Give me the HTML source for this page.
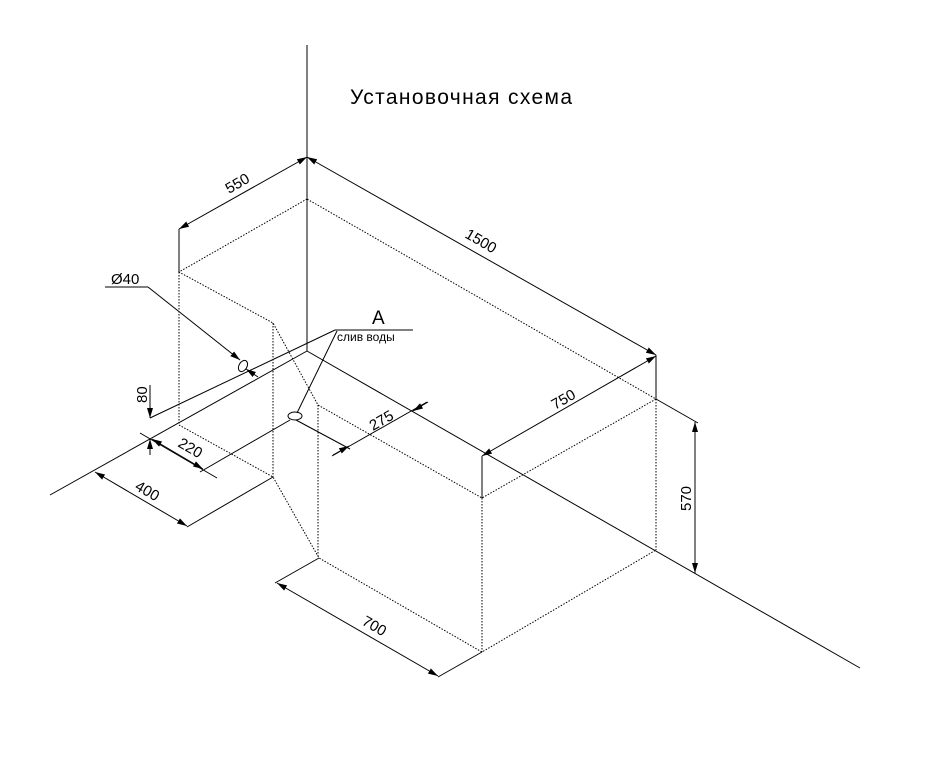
<!DOCTYPE html>
<html><head><meta charset="utf-8"><style>html,body{margin:0;padding:0;background:#fff}svg{display:block}</style></head>
<body>
<svg width="939" height="776" viewBox="0 0 939 776" xmlns="http://www.w3.org/2000/svg" font-family="Liberation Sans, sans-serif">
<defs>
<marker id="ar" viewBox="0 0 10 6" refX="10" refY="3" markerWidth="10" markerHeight="6" orient="auto-start-reverse" markerUnits="userSpaceOnUse">
<path d="M0,0 L10,3 L0,6 Z" fill="#000"/></marker>
</defs>
<rect width="939" height="776" fill="#fff"/>
<g stroke="#000" stroke-width="1" fill="none">
<line x1="307" y1="45" x2="307" y2="351"/>
<line x1="50" y1="495" x2="307" y2="351"/>
<line x1="307" y1="351" x2="860" y2="668"/>
<line x1="307" y1="157" x2="656" y2="355" marker-start="url(#ar)" marker-end="url(#ar)"/>
<line x1="307" y1="157" x2="179" y2="229" marker-start="url(#ar)" marker-end="url(#ar)"/>
<line x1="179" y1="229" x2="179" y2="272"/>
<line x1="656" y1="355" x2="656" y2="399"/>
<line x1="482" y1="456" x2="656" y2="356" marker-start="url(#ar)" marker-end="url(#ar)"/>
<line x1="482" y1="456" x2="482" y2="498"/>
<line x1="656" y1="399" x2="698" y2="423"/>
<line x1="695" y1="422" x2="695" y2="573" marker-start="url(#ar)" marker-end="url(#ar)"/>
<line x1="319" y1="558" x2="275" y2="583"/>
<line x1="482" y1="652" x2="438" y2="677"/>
<line x1="277" y1="583" x2="438" y2="676" marker-start="url(#ar)" marker-end="url(#ar)"/>
<line x1="273" y1="477" x2="187" y2="527"/>
<line x1="95" y1="472" x2="187" y2="526" marker-start="url(#ar)" marker-end="url(#ar)"/>
<line x1="290" y1="420" x2="200" y2="472"/>
<line x1="140" y1="433" x2="217" y2="478"/>
<line x1="152" y1="439" x2="203" y2="469" marker-start="url(#ar)" marker-end="url(#ar)"/>
<line x1="150" y1="418" x2="335" y2="330"/>
<line x1="150" y1="385" x2="150" y2="418" marker-end="url(#ar)"/>
<line x1="150" y1="455" x2="150" y2="439" marker-end="url(#ar)"/>
<line x1="296" y1="420" x2="350" y2="449"/>
<line x1="332" y1="456" x2="427" y2="402"/>
<line x1="333" y1="455" x2="349" y2="446" marker-end="url(#ar)"/>
<line x1="428" y1="402" x2="413" y2="411" marker-end="url(#ar)"/>
<line x1="105" y1="287" x2="148" y2="287"/>
<line x1="148" y1="287" x2="240" y2="360" marker-end="url(#ar)"/>
<line x1="258" y1="377" x2="246" y2="369" marker-end="url(#ar)"/>
<line x1="335" y1="330" x2="413" y2="330"/>
<line x1="337" y1="331" x2="297" y2="413"/>
<ellipse cx="243" cy="366" rx="4" ry="6" transform="rotate(30 243 366)"/>
<ellipse cx="295" cy="416" rx="7" ry="4"/>
</g>
<g stroke="#000" stroke-width="1" fill="none" stroke-dasharray="1.5,1.5">
<polyline points="307,199 179,272 273,323 318,405 482,498 656,399 307,199"/>
<line x1="179" y1="272" x2="179" y2="425"/>
<line x1="273" y1="323" x2="273" y2="477"/>
<line x1="318" y1="405" x2="318" y2="558"/>
<line x1="482" y1="498" x2="482" y2="652"/>
<line x1="656" y1="399" x2="656" y2="550"/>
<polyline points="179,425 273,477 319,558 482,652 656,550"/>
</g>
<g font-size="15" fill="#000">
<text x="350" y="104" font-size="21" textLength="222">Установочная схема</text>
<text x="372" y="324" font-size="19">A</text>
<text x="337" y="341" font-size="12">слив воды</text>
<text x="111" y="284">Ø40</text>
<text transform="translate(229,194) rotate(-30)">550</text>
<text transform="translate(464,237) rotate(30)">1500</text>
<text transform="translate(555,410) rotate(-30)">750</text>
<text transform="translate(373,431) rotate(-30)">275</text>
<text transform="translate(691,511) rotate(-90)">570</text>
<text transform="translate(177,446) rotate(30)">220</text>
<text transform="translate(134,489) rotate(30)">400</text>
<text transform="translate(361,624) rotate(30)">700</text>
<text transform="translate(147,403) rotate(-90)">80</text>
</g>
</svg>
</body></html>
